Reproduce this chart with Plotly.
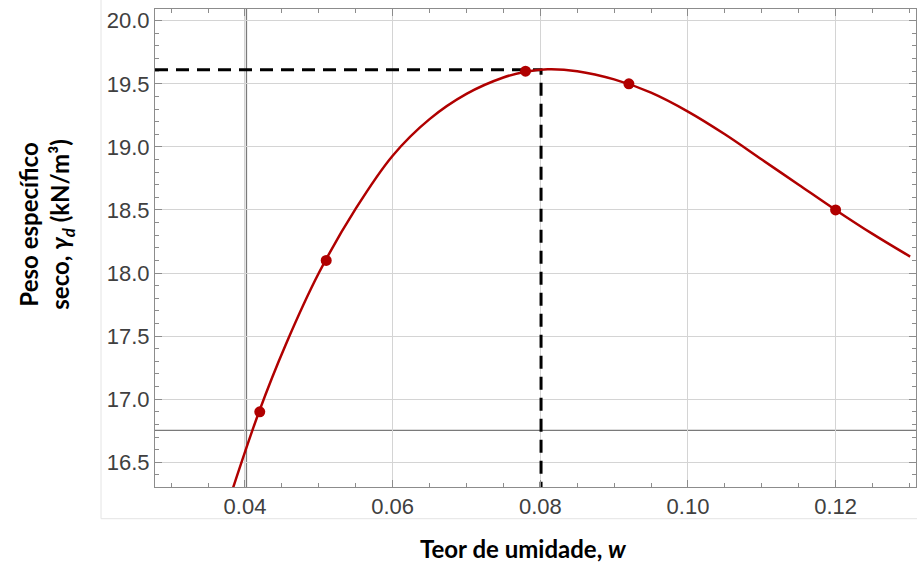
import plotly.graph_objects as go

# Measured points (moisture content w, dry unit weight kN/m3)
w_points = [0.042, 0.051, 0.078, 0.092, 0.120]
gamma_points = [16.90, 18.10, 19.60, 19.50, 18.50]

# Fitted compaction curve
w_curve = [0.0384, 0.0419, 0.0455, 0.0500, 0.0550, 0.0600, 0.0650, 0.0700, 0.0750,
           0.0780, 0.0810, 0.0850, 0.0900, 0.0950, 0.1000, 0.1050, 0.1100, 0.1150,
           0.1200, 0.1250, 0.1301]
gamma_curve = [16.30, 16.90, 17.43, 18.00, 18.51, 18.93, 19.22, 19.42, 19.55,
               19.595, 19.615, 19.60, 19.535, 19.43, 19.28, 19.10, 18.90, 18.70,
               18.50, 18.31, 18.13]

# Optimum (dashed guide lines)
w_opt = [0.0801]
gamma_max = [19.611]

# Axis crossing lines (Mathematica-style axes)
axis_x = [0.0402]
axis_y = [16.753]

x_range = [0.02781, 0.13089]
y_range = [16.304, 20.093]

x_ticks = [0.04, 0.06, 0.08, 0.10, 0.12]
x_ticktext = ["0.04", "0.06", "0.08", "0.10", "0.12"]
y_ticks = [16.5, 17.0, 17.5, 18.0, 18.5, 19.0, 19.5, 20.0]
y_ticktext = ["16.5", "17.0", "17.5", "18.0", "18.5", "19.0", "19.5", "20.0"]

red = "#b00000"

fig = go.Figure()

# dashed guides
fig.add_trace(go.Scatter(x=[x_range[0], w_opt[0], w_opt[0]],
                         y=[gamma_max[0], gamma_max[0], y_range[0]],
                         mode="lines", line=dict(color="black", width=3, dash="13px,8px"),
                         hoverinfo="skip", showlegend=False))

fig.add_trace(go.Scatter(x=w_curve, y=gamma_curve, mode="lines",
                         line=dict(color=red, width=2.5, shape="spline", smoothing=1.0),
                         showlegend=False))
fig.add_trace(go.Scatter(x=w_points, y=gamma_points, mode="markers",
                         marker=dict(color=red, size=11), showlegend=False))

# axis lines
fig.add_shape(type="line", xref="x", yref="paper", x0=axis_x[0], x1=axis_x[0], y0=0, y1=1,
              line=dict(color="#7a7a7a", width=1.3), layer="below")
fig.add_shape(type="line", xref="paper", yref="y", x0=0, x1=1, y0=axis_y[0], y1=axis_y[0],
              line=dict(color="#7a7a7a", width=1.3), layer="below")

# outer faint frame
L, T, W, H = 155, 9.3, 761, 478
def px(x):
    return (x - L) / W
def py(y):
    return (T + H - y) / H
fig.add_shape(type="line", xref="paper", yref="paper", x0=px(101), x1=px(101), y0=py(0), y1=py(519),
              line=dict(color="#e4e4e4", width=1))
fig.add_shape(type="line", xref="paper", yref="paper", x0=px(101), x1=px(917), y0=py(519), y1=py(519),
              line=dict(color="#e4e4e4", width=1))

axis_common = dict(showline=True, linecolor="#8c8c8c", linewidth=1, mirror="ticks",
                   ticks="inside", ticklen=7, tickcolor="#8c8c8c", tickwidth=1,
                   showgrid=True, gridcolor="#d4d4d4", gridwidth=1, zeroline=False,
                   tickfont=dict(family="Liberation Sans, Arial, sans-serif", size=22, color="#404040"))

fig.update_xaxes(range=x_range, tickmode="array", tickvals=x_ticks, ticktext=x_ticktext,
                 minor=dict(dtick=0.005, tick0=0, ticks="inside", ticklen=4, tickcolor="#8c8c8c",
                            showgrid=False),
                 **axis_common)
fig.update_yaxes(range=y_range, tickmode="array", tickvals=y_ticks, ticktext=y_ticktext,
                 minor=dict(dtick=0.1, tick0=0, ticks="inside", ticklen=4, tickcolor="#8c8c8c",
                            showgrid=False),
                 **axis_common)

title_font = dict(family="Lato, Open Sans, sans-serif", size=24, color="black")
fig.add_annotation(xref="paper", yref="paper", x=px(523), y=py(549), showarrow=False,
                   text="<b>Teor de umidade, <i>w</i></b>", font=title_font,
                   xanchor="center", yanchor="middle")
fig.add_annotation(xref="paper", yref="paper", x=px(46), y=py(225), showarrow=False,
                   text="<b>Peso específico</b><br><b>seco, <i>γ</i><sub><i>d</i></sub> (kN/m³)</b>",
                   font=title_font, textangle=-90, xanchor="center", yanchor="middle")

fig.update_layout(width=917, height=565, margin=dict(l=155, r=1, t=9, b=78),
                  paper_bgcolor="white", plot_bgcolor="white", showlegend=False)

fig.write_html("out.html")
